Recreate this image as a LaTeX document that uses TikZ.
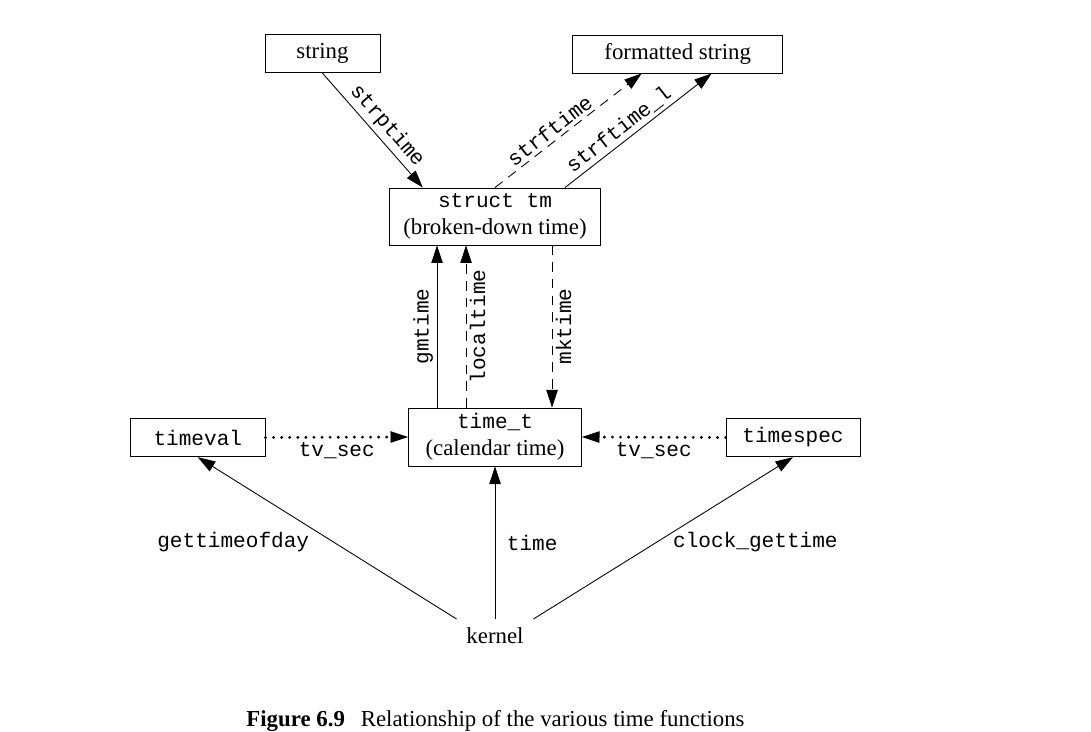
\documentclass[tikz,border=0pt]{standalone}
\usepackage{fontspec}
\setmainfont{Liberation Serif}
\setmonofont{Liberation Mono}
\usetikzlibrary{arrows.meta,calc}
\newcommand{\tfn}[1]{{\fontsize{12pt}{14pt}\selectfont\ttfamily #1}}
\begin{document}
\begin{tikzpicture}[x=0.02cm, y=-0.02cm, line width=0.5pt,
  >={Triangle[length=10pt,width=6.5pt]},
  font=\fontsize{13pt}{15.5pt}\selectfont,
  box/.style={draw, inner sep=0pt, align=center},
  fn/.style={font=\fontsize{12pt}{14pt}\selectfont\ttfamily, inner sep=2pt},
  dashline/.style={dash pattern=on 5.5pt off 4pt},
  dotline/.style={line width=1.8pt, line cap=round, dash pattern=on 0pt off 4.6pt}]
  \useasboundingbox (0,0) rectangle (1091,732);

  \node[box, minimum width=2.3cm, minimum height=0.77cm] (str) at (322.5,53.5) {string};
  \node[box, minimum width=4.2cm, minimum height=0.76cm] (fmt) at (677.7,54) {formatted string};
  \node[box, minimum width=4.23cm, minimum height=1.14cm] (tm) at (495,216.5) {\tfn{struct tm}\\(broken-down time)};
  \node[box, minimum width=3.46cm, minimum height=1.16cm] (tt) at (495,437) {\tfn{time\_t}\\(calendar time)};
  \node[box, minimum width=2.69cm, minimum height=0.77cm] (tv) at (197.8,437.5) {\tfn{timeval}};
  \node[box, minimum width=2.68cm, minimum height=0.77cm] (ts) at (793,437.5) {\tfn{timespec}};
  \node[inner xsep=5.4pt, inner ysep=4.7pt, anchor=north] (kern) at (495,619) {kernel};
  \node[anchor=base] (cap) at (495.5,726) {\textbf{Figure 6.9}\hspace{9pt}Relationship of the various time functions};

  \draw[->] (str.south) -- ($(tm.north west)+(34,0)$) node[fn, pos=0.54, sloped, above] {strptime};
  \draw[->, dashline] (tm.north) -- ($(fmt.south)+(-36,0)$) node[fn, pos=0.42, sloped, above] {strftime};
  \draw[->] ($(tm.north)+(70,0)$) -- ($(fmt.south)+(34,0)$) node[fn, pos=0.42, sloped, above] {strftime\_l};

  \draw[->] ($(tt.north)+(-58,0)$) -- ($(tm.south)+(-58,0)$) node[fn, midway, sloped, above] {gmtime};
  \draw[->, dashline] ($(tt.north)+(-29,0)$) -- ($(tm.south)+(-29,0)$) node[fn, midway, sloped, below] {localtime};
  \draw[->, dashline] ($(tm.south)+(57,0)$) -- ($(tt.north)+(57,0)$) node[fn, midway, rotate=90, anchor=north] {mktime};

  \draw[-{Triangle[length=10pt,width=6.5pt,line width=0.5pt]}, dotline] (tv.east) -- (tt.west) node[fn, midway, below] {tv\_sec};
  \draw[-{Triangle[length=10pt,width=6.5pt,line width=0.5pt]}, dotline] (ts.west) -- (tt.east) node[fn, midway, below] {tv\_sec};

  \draw[->] (kern.north west) -- (tv.south) node[fn, midway, left=8pt, yshift=-2pt] {gettimeofday};
  \draw[->] (kern.north) -- (tt.south) node[fn, midway, right=4.5pt] {time};
  \draw[->] (kern.north east) -- (ts.south) node[fn, midway, right=3.4pt, yshift=-2pt] {clock\_gettime};
\end{tikzpicture}
\end{document}
